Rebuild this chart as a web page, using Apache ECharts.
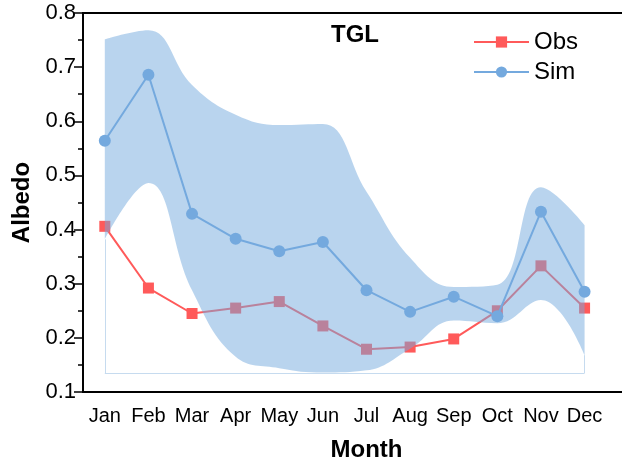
<!DOCTYPE html>
<html>
<head>
<meta charset="utf-8">
<script src="https://cdn.jsdelivr.net/npm/echarts@6/dist/echarts.min.js"></script>
<style>html,body{margin:0;padding:0;background:#fff;}#c{width:622px;height:464px;}</style>
</head>
<body>
<div id="c"></div>
<script>
var months = ['Jan','Feb','Mar','Apr','May','Jun','Jul','Aug','Sep','Oct','Nov','Dec'];
var obs = [0.406,0.292,0.245,0.255,0.267,0.222,0.179,0.183,0.198,0.250,0.333,0.255];
var sim = [0.564,0.686,0.429,0.383,0.360,0.377,0.288,0.248,0.276,0.240,0.433,0.285];
var simUpper = [0.751,0.768,0.667,0.612,0.593,0.595,0.470,0.348,0.294,0.298,0.478,0.408];
var simLower = [0.382,0.486,0.288,0.165,0.144,0.136,0.140,0.180,0.232,0.227,0.270,0.168];
var bandBase = 0.135;
var yTicks = {min:0.1, max:0.8, interval:0.1};

var cats = months.concat(['']);
var bandWidth = simUpper.map(function(v,i){ return +(v - simLower[i]).toFixed(4); });
var RED = '#ff5a5a', BLUE = '#74a9de';
var FONT = 'Liberation Sans, Arial, sans-serif';

var chart = echarts.init(document.getElementById('c'));
chart.setOption({
  animation: false,
  backgroundColor: '#fff',
  title: {
    text: 'TGL', left: 326, top: 18,
    textStyle: {fontFamily: FONT, fontSize: 24, fontWeight: 'bold', color: '#000'}
  },
  legend: {
    data: ['Obs','Sim'], orient: 'vertical', left: 468, top: 25,
    itemWidth: 55, itemHeight: 14, itemGap: 6,
    textStyle: {fontFamily: FONT, fontSize: 24, color: '#000'}
  },
  grid: {
    left: 83, top: 13, width: 567, bottom: 72,
    outerBoundsMode: 'none', containLabel: false,
    show: true, borderColor: '#000', borderWidth: 1.8, backgroundColor: 'transparent'
  },
  xAxis: {
    type: 'category', data: cats, boundaryGap: true,
    name: 'Month', nameLocation: 'middle', nameGap: 46,
    nameTextStyle: {fontFamily: FONT, fontSize: 24, fontWeight: 'bold', color: '#000'},
    axisLine: {lineStyle: {color: '#000', width: 1.8}},
    axisTick: {alignWithLabel: true, length: 7, lineStyle: {color: '#000', width: 1.5}},
    axisLabel: {fontFamily: FONT, fontSize: 20, color: '#000', margin: 14, interval: 0},
    splitLine: {show: false}
  },
  yAxis: {
    type: 'value', min: yTicks.min, max: yTicks.max, interval: yTicks.interval,
    name: 'Albedo', nameLocation: 'middle', nameGap: 47,
    nameTextStyle: {fontFamily: FONT, fontSize: 24, fontWeight: 'bold', color: '#000'},
    axisLine: {show: true, lineStyle: {color: '#000', width: 1.8}},
    axisTick: {show: true, length: 9, lineStyle: {color: '#000', width: 1.5}},
    minorTick: {show: true, splitNumber: 2, length: 5, lineStyle: {color: '#000', width: 1.5}},
    axisLabel: {fontFamily: FONT, fontSize: 22, color: '#000', margin: 7,
      formatter: function(v){ return v.toFixed(1); }},
    splitLine: {show: false}
  },
  series: [
    {
      name: 'Obs', type: 'line', data: obs,
      symbol: 'rect', symbolSize: 11,
      lineStyle: {color: RED, width: 2}, itemStyle: {color: RED},
      z: 2
    },
    {
      name: 'lo', type: 'line', data: simLower, stack: 'band', smooth: 0.42,
      symbol: 'none', lineStyle: {opacity: 0}, silent: true,
      markLine: {
        symbol: 'none', silent: true, label: {show: false},
        lineStyle: {color: '#c6dbef', width: 1, type: 'solid'},
        data: [
          [{coord: [months[0], bandBase]}, {coord: [months[11], bandBase]}],
          [{coord: [months[0], bandBase]}, {coord: [months[0], simLower[0]]}],
          [{coord: [months[11], bandBase]}, {coord: [months[11], simLower[11]]}]
        ]
      },
      z: 3
    },
    {
      name: 'band', type: 'line', data: bandWidth, stack: 'band', smooth: 0.42,
      symbol: 'none', lineStyle: {opacity: 0}, silent: true,
      areaStyle: {color: BLUE, opacity: 0.5},
      z: 3
    },
    {
      name: 'Sim', type: 'line', data: sim,
      symbol: 'circle', symbolSize: 12,
      lineStyle: {color: BLUE, width: 2}, itemStyle: {color: BLUE},
      z: 4
    }
  ]
});
</script>
</body>
</html>
